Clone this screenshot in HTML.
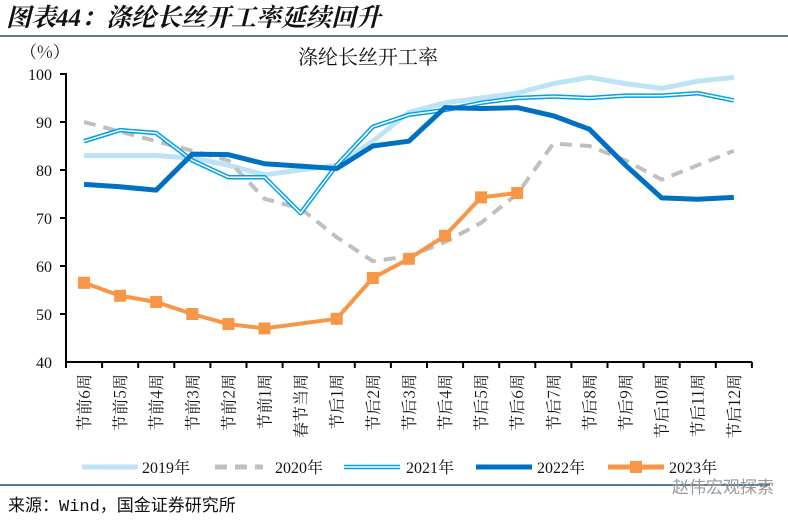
<!DOCTYPE html>
<html><head><meta charset="utf-8"><style>
html,body{margin:0;padding:0;background:#fff;}
body{width:788px;height:519px;overflow:hidden;position:relative;font-family:"Liberation Serif","Noto Serif CJK SC",serif;}
</style></head><body>
<svg width="788" height="519" viewBox="0 0 788 519" xmlns="http://www.w3.org/2000/svg">
<text x="6" y="26" font-size="25" font-weight="bold" font-style="italic" font-family="Liberation Serif,Noto Serif CJK SC,serif" fill="#111">图表44：涤纶长丝开工率延续回升</text>
<line x1="0" y1="36" x2="788" y2="36" stroke="#1f4e79" stroke-width="1.5"/>
<text x="20" y="58" font-size="17" fill="#111" font-family="Noto Serif CJK SC,serif">（%）</text>
<text x="368" y="64" font-size="20" text-anchor="middle" fill="#111" font-family="Noto Serif CJK SC,serif">涤纶长丝开工率</text>
<g font-size="16" text-anchor="end" fill="#111">
<text x="52" y="80">100</text><text x="52" y="128">90</text><text x="52" y="176">80</text><text x="52" y="224">70</text><text x="52" y="272">60</text><text x="52" y="320">50</text><text x="52" y="368">40</text>
</g>
<g stroke="#000" stroke-width="2">
<line x1="66" y1="73" x2="66" y2="363"/>
<line x1="66" y1="362" x2="752" y2="362"/>
<line x1="60" y1="74" x2="66" y2="74"/><line x1="60" y1="122" x2="66" y2="122"/><line x1="60" y1="170" x2="66" y2="170"/><line x1="60" y1="218" x2="66" y2="218"/><line x1="60" y1="266" x2="66" y2="266"/><line x1="60" y1="314" x2="66" y2="314"/>
</g>
<g id="xt" stroke="#000" stroke-width="2"></g>
<g id="series" fill="none" stroke-linejoin="round"></g>
<g id="xl" font-size="16" fill="#111" font-family="Noto Serif CJK SC,serif"></g>
<g font-size="16" fill="#111">
<line x1="82" y1="467" x2="138" y2="467" stroke="#bde3f7" stroke-width="5"/>
<text x="142" y="473">2019年</text>
<line x1="215" y1="467" x2="263" y2="467" stroke="#bfbfbf" stroke-width="5" stroke-dasharray="12,8"/>
<text x="275" y="473">2020年</text>
<line x1="344" y1="467" x2="400" y2="467" stroke="#00a0e9" stroke-width="4.5"/>
<line x1="344" y1="467" x2="400" y2="467" stroke="#fff" stroke-width="1.5"/>
<text x="406" y="473">2021年</text>
<line x1="476" y1="467" x2="532" y2="467" stroke="#0070c0" stroke-width="5"/>
<text x="537" y="473">2022年</text>
<line x1="608" y1="467" x2="664" y2="467" stroke="#f79646" stroke-width="5"/>
<rect x="630" y="461" width="12" height="12" fill="#f79646"/>
<text x="669" y="473">2023年</text>
</g>
<line x1="0" y1="485" x2="770" y2="485" stroke="#1f4e79" stroke-width="1.5"/>
<text x="8" y="511" font-size="17" fill="#111" font-family="Liberation Mono,Noto Sans CJK SC,monospace">来源：Wind，国金证券研究所</text>
<text x="672" y="493" font-size="17" fill="#999" font-family="Noto Sans CJK SC,sans-serif">赵伟宏观探索</text>
</svg>
<script>
const ns="http://www.w3.org/2000/svg";
const X=i=>84+36.1*i, Y=v=>362-(v-40)*4.8;
const labels=["节前6周","节前5周","节前4周","节前3周","节前2周","节前1周","春节当周","节后1周","节后2周","节后3周","节后4周","节后5周","节后6周","节后7周","节后8周","节后9周","节后10周","节后11周","节后12周"];
const xt=document.getElementById('xt'), xl=document.getElementById('xl');
for(let i=0;i<=19;i++){const l=document.createElementNS(ns,'line');const x=66+36.1*i;l.setAttribute('x1',x);l.setAttribute('x2',x);l.setAttribute('y1',362);l.setAttribute('y2',368);xt.appendChild(l);}
labels.forEach((s,i)=>{const t=document.createElementNS(ns,'text');t.setAttribute('transform',`translate(${X(i)+6},374) rotate(-90)`);t.setAttribute('text-anchor','end');t.textContent=s;xl.appendChild(t);});
const S=document.getElementById('series');
function line(d,st,w,dash){const p=document.createElementNS(ns,'polyline');p.setAttribute('points',d.map((v,i)=>v==null?null:X(i)+','+Y(v)).filter(Boolean).join(' '));p.setAttribute('stroke',st);p.setAttribute('stroke-width',w);if(dash)p.setAttribute('stroke-dasharray',dash);S.appendChild(p);}
line([83,83,83,82.5,81,79,80,81,86,92,94,95,96,98,99.3,98,97,98.5,99.3],'#bde3f7',5);
line([90,88,86,84,82,74,72,66,61,62,65,69,75,85.5,85,82,78,81,84],'#bfbfbf',4,'12,8');
const d21=[86,88.3,87.7,82,78.5,78.5,71,81,89,91.5,92.5,94,95,95.3,95,95.5,95.5,96,94.5];
line(d21,'#00a0e9',4.5);line(d21,'#fff',1.5);
line([77,76.5,75.8,83.3,83.2,81.3,80.8,80.3,85,86,93,92.8,93,91.3,88.5,81,74.2,73.9,74.3],'#0070c0',5);
const d23=[56.5,53.8,52.5,50,47.9,47,null,49,57.5,61.5,66.3,74.3,75.2];
line(d23,'#f79646',4);
d23.forEach((v,i)=>{if(v==null)return;const r=document.createElementNS(ns,'rect');r.setAttribute('x',X(i)-6);r.setAttribute('y',Y(v)-6);r.setAttribute('width',12);r.setAttribute('height',12);r.setAttribute('fill','#f79646');S.appendChild(r);});
</script>
</body></html>
